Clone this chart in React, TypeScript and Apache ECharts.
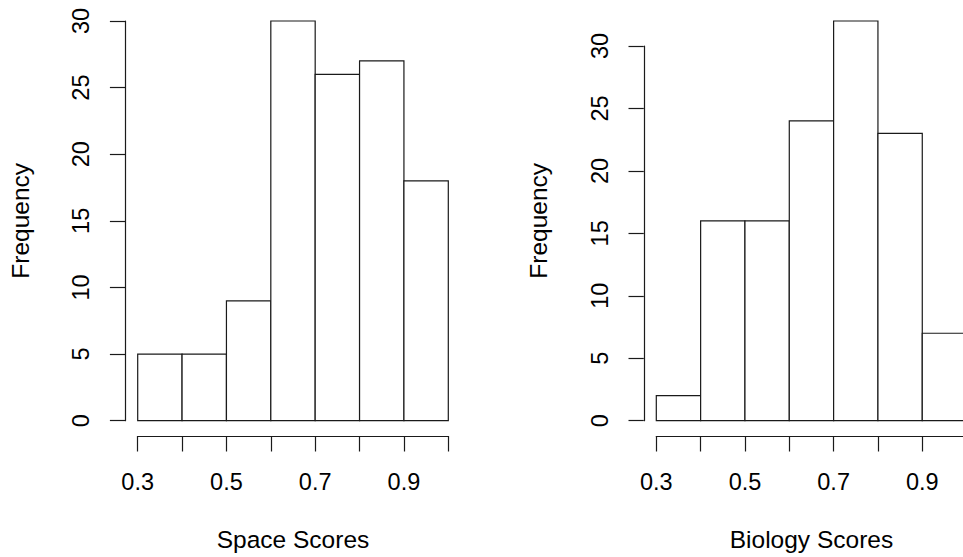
import React, { useEffect, useRef } from 'react';
import * as echarts from 'echarts';

const binEdges = [0.3, 0.4, 0.5, 0.6, 0.7, 0.8, 0.9, 1.0];
const spaceCounts = [5, 5, 9, 30, 26, 27, 18];
const biologyCounts = [2, 16, 16, 24, 32, 23, 7];
const xTickLabels = ['0.3', '0.5', '0.7', '0.9'];
const xAxisNames = ['Space Scores', 'Biology Scores'];
const yAxisName = 'Frequency';

const FONT = 'Liberation Sans, Arial, Helvetica, sans-serif';
const INK = '#1a1a1a';
const FS_TICK = 23.5;
const FS_NAME = 24.5;

function toBins(counts: number[]) {
  return counts.map((c, i) => [binEdges[i], binEdges[i + 1], c]);
}

const tickText = { color: '#000', fontFamily: FONT, fontSize: FS_TICK };
const nameText = { color: '#000', fontFamily: FONT, fontSize: FS_NAME };
const lineStyle = { color: INK, width: 1.2 };

function xAxisCfg(gridIndex: number, name: string, show = true): any {
  return {
    gridIndex,
    type: 'value',
    min: 0.3,
    max: 1.0,
    interval: 0.1,
    show,
    offset: 15.3,
    axisLine: { show: true, onZero: false, lineStyle },
    axisTick: { show: true, length: 15.5, inside: false, lineStyle },
    axisLabel: {
      ...tickText,
      margin: 34,
      hideOverlap: false,
      showMinLabel: true,
      showMaxLabel: true,
      formatter: (v: number) => {
        const s = v.toFixed(1);
        return xTickLabels.includes(s) ? s : '';
      },
    },
    splitLine: { show: false },
    name,
    nameLocation: 'middle',
    nameGap: 91,
    nameTextStyle: nameText,
  };
}

function yAxisCfg(gridIndex: number, max: number, opts: { line: boolean; name: string }): any {
  return {
    gridIndex,
    type: 'value',
    min: 0,
    max,
    interval: 5,
    offset: 12.5,
    axisLine: { show: opts.line, onZero: false, lineStyle },
    axisTick: { show: opts.line, length: 15.3, inside: false, lineStyle },
    axisLabel: {
      ...tickText,
      show: opts.line,
      rotate: 90,
      margin: 32,
      hideOverlap: false,
      showMinLabel: true,
      showMaxLabel: true,
    },
    splitLine: { show: false },
    name: opts.name,
    nameLocation: 'middle',
    nameGap: 92.5,
    nameTextStyle: nameText,
  };
}

function histSeries(xAxisIndex: number, yAxisIndex: number, counts: number[]): any {
  return {
    type: 'custom',
    xAxisIndex,
    yAxisIndex,
    clip: false,
    data: toBins(counts),
    encode: { x: [0, 1], y: 2 },
    renderItem: (_params: any, api: any) => {
      const x0 = api.value(0);
      const x1 = api.value(1);
      const c = api.value(2);
      const p0 = api.coord([x0, 0]);
      const p1 = api.coord([x1, c]);
      return {
        type: 'rect',
        shape: { x: p0[0], y: p1[1], width: p1[0] - p0[0], height: p0[1] - p1[1] },
        style: { fill: '#fff', stroke: INK, lineWidth: 1.2 },
      };
    },
  };
}

export default function App() {
  const ref = useRef<HTMLDivElement>(null);
  useEffect(() => {
    if (!ref.current) return;
    const chart = echarts.init(ref.current, undefined, { renderer: 'svg' });
    chart.setOption({
      animation: false,
      backgroundColor: '#fff',
      grid: [
        { left: 137.7, top: 21, width: 310.6, height: 399.7 },
        { left: 656.3, top: 46, width: 310.3, height: 374.7 },
        { left: 656.3, top: 21, width: 310.3, height: 399.7 },
      ],
      xAxis: [
        xAxisCfg(0, xAxisNames[0]),
        xAxisCfg(1, xAxisNames[1]),
        xAxisCfg(2, '', false),
      ],
      yAxis: [
        yAxisCfg(0, 30, { line: true, name: yAxisName }),
        yAxisCfg(1, 30, { line: true, name: '' }),
        yAxisCfg(2, 32, { line: false, name: yAxisName }),
      ],
      series: [histSeries(0, 0, spaceCounts), histSeries(1, 1, biologyCounts)],
    });
    return () => chart.dispose();
  }, []);
  return (
    <div style={{ position: 'fixed', left: 0, top: 0, width: 963, height: 557, overflow: 'hidden', background: '#fff' }}>
      <div ref={ref} style={{ width: 1000, height: 557 }} />
    </div>
  );
}
